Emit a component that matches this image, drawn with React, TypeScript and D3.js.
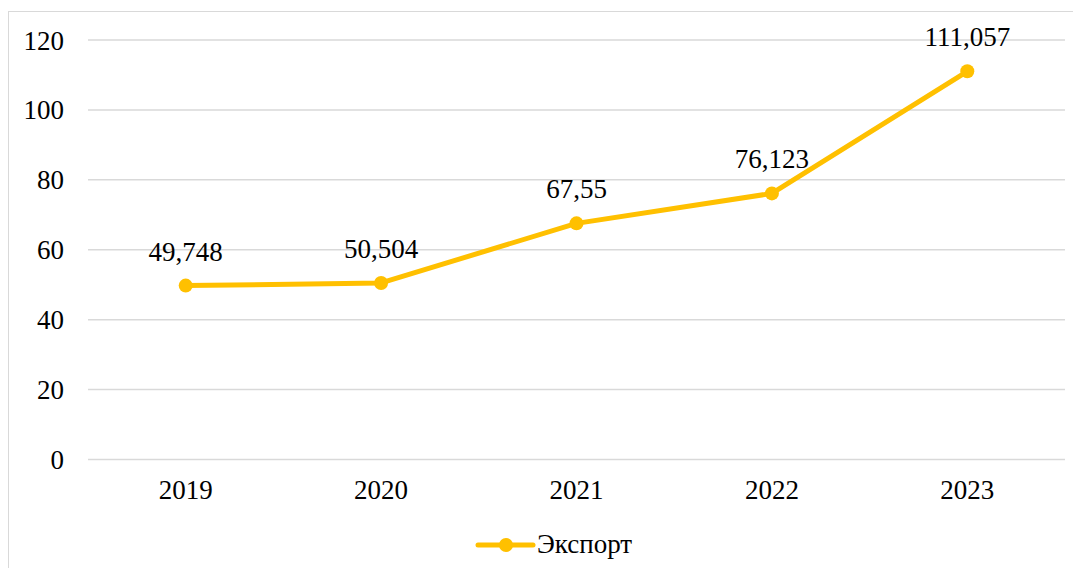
import React from "react";
import * as d3 from "d3";

const years = ["2019", "2020", "2021", "2022", "2023"];
const exportValues = [49.748, 50.504, 67.55, 76.123, 111.057];
const valueLabels = ["49,748", "50,504", "67,55", "76,123", "111,057"];
const yTicks = [0, 20, 40, 60, 80, 100, 120];
const seriesName = "Экспорт";

const W = 1073;
const H = 560;
const COLOR = "#FFC000";
const FONT = '"Liberation Serif"';

export default function App() {
  const left = 80, right = 1057;
  const x = d3.scaleBand<string>().domain(years).range([left, right]);
  const y = d3.scaleLinear().domain([0, 120]).range([451.5, 32]);
  const line = d3
    .line<number>()
    .x((_, i) => (x(years[i]) as number) + x.bandwidth() / 2)
    .y((d) => y(d));
  const ts: React.CSSProperties = { fontFamily: FONT, fontSize: 27 };

  return (
    <svg width={W} height={H} style={{ display: "block" }}>
      <rect x={0.5} y={3.5} width={W + 20} height={H + 20} fill="#fff" stroke="#d9d9d9" strokeWidth={1} />
      {yTicks.map((t) => (
        <g key={t}>
          <line x1={left} x2={right} y1={y(t)} y2={y(t)} stroke="#d9d9d9" strokeWidth={1.5} />
          <text x={56} y={y(t) + 9.5} textAnchor="end" style={ts} fill="#000">
            {t}
          </text>
        </g>
      ))}
      {years.map((yr) => (
        <text
          key={yr}
          x={(x(yr) as number) + x.bandwidth() / 2}
          y={491}
          textAnchor="middle"
          style={ts}
          fill="#000"
        >
          {yr}
        </text>
      ))}
      <path d={line(exportValues) || ""} fill="none" stroke={COLOR} strokeWidth={5} strokeLinejoin="round" />
      {exportValues.map((v, i) => {
        const cx = (x(years[i]) as number) + x.bandwidth() / 2;
        return (
          <g key={i}>
            <circle cx={cx} cy={y(v)} r={7} fill={COLOR} />
            <text x={cx} y={y(v) - 25} textAnchor="middle" style={ts} fill="#000">
              {valueLabels[i]}
            </text>
          </g>
        );
      })}
      <g>
        <line x1={470} x2={525} y1={537} y2={537} stroke={COLOR} strokeWidth={5} strokeLinecap="round" />
        <circle cx={498} cy={537} r={7} fill={COLOR} />
        <text x={529} y={545} style={ts} fill="#000">
          {seriesName}
        </text>
      </g>
    </svg>
  );
}
